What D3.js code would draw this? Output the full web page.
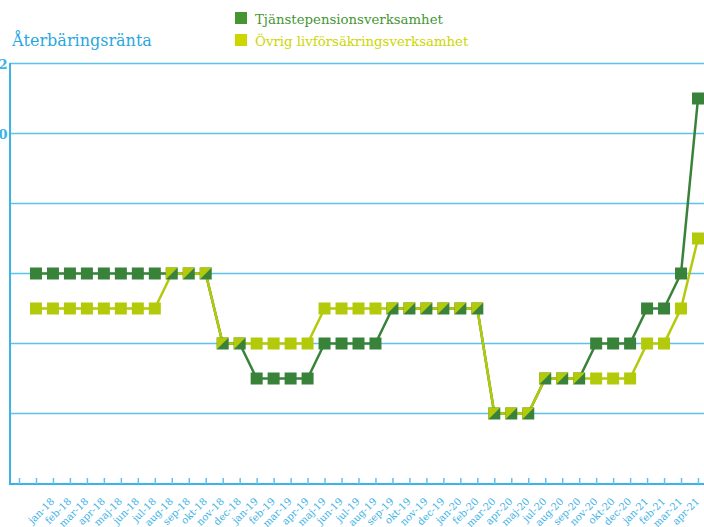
<!DOCTYPE html>
<html>
<head>
<meta charset="utf-8">
<script src="https://cdn.jsdelivr.net/npm/d3@7/dist/d3.min.js"></script>
<style>
  html, body { margin: 0; padding: 0; background: #fff; overflow: hidden; }
  svg { display: block; }
</style>
</head>
<body>
<script>
// ---- data ----
const monthLabels = [
  "jan-18","feb-18","mar-18","apr-18","maj-18","jun-18","jul-18","aug-18","sep-18","okt-18","nov-18","dec-18",
  "jan-19","feb-19","mar-19","apr-19","maj-19","jun-19","jul-19","aug-19","sep-19","okt-19","nov-19","dec-19",
  "jan-20","feb-20","mar-20","apr-20","maj-20","jul-20","aug-20","sep-20","nov-20","okt-20","dec-20",
  "jan-21","feb-21","mar-21","apr-21"
];
const seriesNames = ["Tjänstepensionsverksamhet", "Övrig livförsäkringsverksamhet"];
const tjanste = [6,6,6,6,6,6,6,6, 6,6,6, 4,4, 3,3,3,3, 4,4,4,4, 5,5,5,5,5,5, 2,2,2, 3,3,3, 4,4,4, 5,5, 6, 11];
const ovrig   = [5,5,5,5,5,5,5,5, 6,6,6, 4,4, 4,4,4,4, 5,5,5,5, 5,5,5,5,5,5, 2,2,2, 3,3,3, 3,3,3, 4,4, 5, 7];
const yTicks = [0,2,4,6,8,10,12];
const titleText = "Återbäringsränta";

// ---- layout ----
const W = 704, H = 527;
const darkGreen = "#38823a", lime = "#b3ca0b";
const legendGreen = "#459633", legendLime = "#cdd600";
const blue = "#3cb2e6", gridBlue = "#5cc2ee";
const font = "'DejaVu Serif', serif";

const svg = d3.select("body").append("svg").attr("width", W).attr("height", H);

const x = d3.scalePoint().domain(d3.range(-1, tjanste.length)).range([19, 698]);
const y = d3.scaleLinear().domain([0, 12]).range([483.5, 63.5]);

// gridlines
svg.append("g")
  .selectAll("line").data(yTicks.filter(d => d > 0)).join("line")
  .attr("x1", 10).attr("x2", W)
  .attr("y1", d => y(d)).attr("y2", d => y(d))
  .attr("stroke", gridBlue).attr("stroke-width", 1.5);

// y axis labels (mostly cut off at the left edge, as in the reference)
svg.append("g")
  .selectAll("text").data(yTicks).join("text")
  .attr("x", -10.5).attr("y", d => y(d) + 5)
  .attr("fill", blue).attr("font-family", font).attr("font-size", 13).attr("font-weight", "bold")
  .text(d => d);

// axes lines
svg.append("line").attr("x1", 10).attr("x2", 10).attr("y1", 63).attr("y2", 484.5)
  .attr("stroke", blue).attr("stroke-width", 2);

const xAxis = d3.axisBottom(x).tickValues(d3.range(-1, tjanste.length)).tickSize(-6).tickFormat("");
const gx = svg.append("g").attr("transform", "translate(0,484)").call(xAxis);
gx.select(".domain").attr("d", `M9,0H${W}`).attr("stroke", blue).attr("stroke-width", 2);
gx.selectAll(".tick line").attr("stroke", gridBlue).attr("stroke-width", 1.5);

// x labels
svg.append("g")
  .selectAll("text").data(monthLabels).join("text")
  .attr("transform", (d, i) => `translate(${x(i + 1) + 2},502) rotate(-45)`)
  .attr("text-anchor", "end")
  .attr("fill", blue).attr("font-family", font).attr("font-size", 10)
  .text(d => d);

// lines
const line = d3.line().x((d, i) => x(i)).y(d => y(d));
svg.append("path").datum(tjanste).attr("d", line)
  .attr("fill", "none").attr("stroke", darkGreen).attr("stroke-width", 2.5);
svg.append("path").datum(ovrig).attr("d", line)
  .attr("fill", "none").attr("stroke", lime).attr("stroke-width", 2.5);

// markers
const s = 12;
svg.append("g").selectAll("rect").data(tjanste).join("rect")
  .attr("x", (d, i) => x(i) - s / 2).attr("y", d => y(d) - s / 2)
  .attr("width", s).attr("height", s).attr("fill", darkGreen);
svg.append("g").selectAll("path").data(ovrig).join("path")
  .attr("d", (d, i) => {
    const cx = x(i), cy = y(d), h = s / 2;
    if (d === tjanste[i]) {
      return `M${cx - h},${cy - h}L${cx + h},${cy - h}L${cx - h},${cy + h}Z`;
    }
    return `M${cx - h},${cy - h}h${s}v${s}h${-s}Z`;
  })
  .attr("fill", lime);

// title
svg.append("text").attr("x", 12).attr("y", 45.5)
  .attr("fill", "#2aa7df").attr("font-family", font).attr("font-size", 16)
  .text(titleText);

// legend
const legColors = [legendGreen, legendLime];
const leg = svg.append("g").selectAll("g").data(seriesNames).join("g")
  .attr("transform", (d, i) => `translate(235,${12 + i * 22})`);
leg.append("rect").attr("width", 12).attr("height", 12).attr("fill", (d, i) => legColors[i]);
leg.append("text").attr("x", 20).attr("y", 12)
  .attr("fill", (d, i) => legColors[i]).attr("font-family", font).attr("font-size", 13.3)
  .text(d => d);
</script>
</body>
</html>
